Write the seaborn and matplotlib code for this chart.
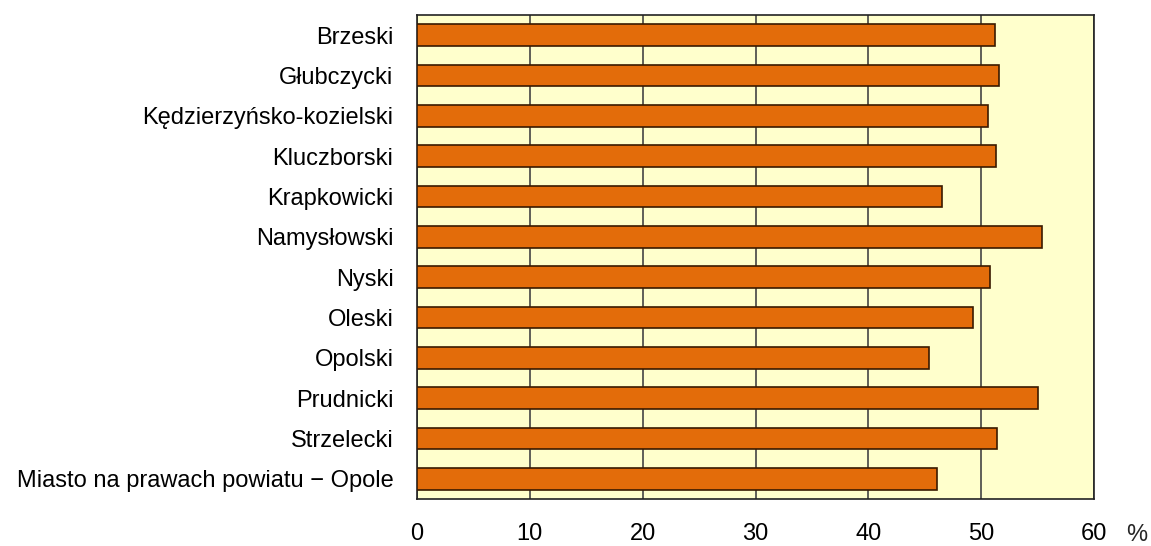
import pandas as pd
import matplotlib
matplotlib.use('Agg')
import matplotlib.pyplot as plt
import seaborn as sns

powiaty = ['Brzeski', 'Głubczycki', 'Kędzierzyńsko-kozielski', 'Kluczborski',
           'Krapkowicki', 'Namysłowski', 'Nyski', 'Oleski', 'Opolski',
           'Prudnicki', 'Strzelecki', 'Miasto na prawach powiatu − Opole']
wartosci = [51.2, 51.6, 50.6, 51.3, 46.5, 55.4, 50.8, 49.3, 45.4, 55.0, 51.4, 46.1]
ticks = [0, 10, 20, 30, 40, 50, 60]

df = pd.DataFrame({'powiat': powiaty, 'wartosc': wartosci})

sns.set_style('white')
plt.rcParams['font.family'] = ['Liberation Sans', 'DejaVu Sans']

fig = plt.figure(figsize=(11.51, 5.46), dpi=100)
ax = fig.add_axes([417 / 1151, 1 - 499 / 546, (1094 - 417) / 1151, (499 - 15) / 546])
ax.set_facecolor('#FFFFCC')

sns.barplot(data=df, x='wartosc', y='powiat', color='#E36C0A', saturation=1,
            edgecolor='#3A1A00', linewidth=1.2, width=0.53, ax=ax, zorder=3)

ax.set_xlim(0, 60)
ax.set_xticks(ticks)
ax.set_xticklabels([str(t) for t in ticks])
ax.xaxis.grid(True, color='#444444', linewidth=1.2, zorder=1)
ax.set_axisbelow(True)
ax.tick_params(axis='x', length=0, pad=17, labelsize=17, colors='black')
ax.tick_params(axis='y', length=0, pad=17, labelsize=17, colors='black')
ax.set_xlabel('')
ax.set_ylabel('')
for s in ax.spines.values():
    s.set_visible(True)
    s.set_color('#222222')
    s.set_linewidth(1.2)

fig.text(1137 / 1151, 1 - 535 / 546, '%', fontsize=17, ha='center', va='center')

fig.savefig('out.png', dpi=100)
